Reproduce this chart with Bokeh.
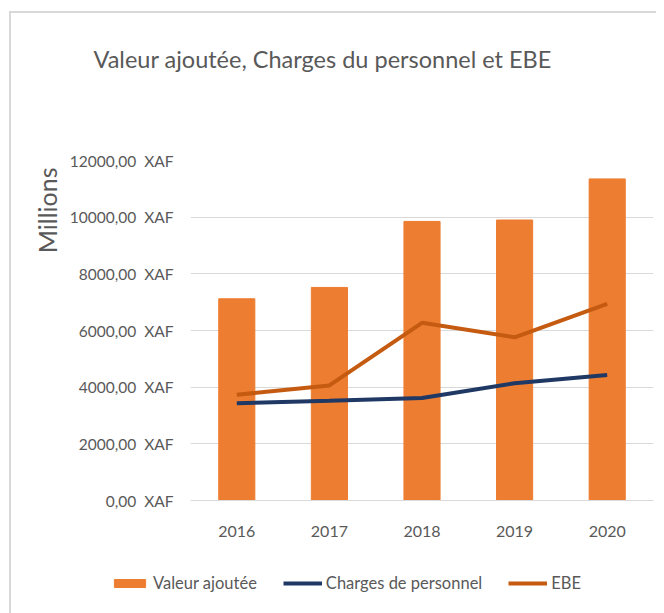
from bokeh.plotting import figure
from bokeh.layouts import column
from bokeh.models import (FactorRange, Range1d, FixedTicker, Title, Legend, LegendItem)
from bokeh.embed import file_html
from bokeh.resources import INLINE

# ---- data ----
years = ["2016", "2017", "2018", "2019", "2020"]
valeur_ajoutee = [7120, 7520, 9850, 9900, 11350]
charges_personnel = [3430, 3520, 3620, 4140, 4430]
ebe = [3730, 4060, 6270, 5760, 6940]
y_ticks = [0, 2000, 4000, 6000, 8000, 10000, 12000]
y_tick_labels = ["0,00\u00a0 XAF", "2000,00\u00a0 XAF", "4000,00\u00a0 XAF",
                 "6000,00\u00a0 XAF", "8000,00\u00a0 XAF", "10000,00\u00a0 XAF",
                 "12000,00\u00a0 XAF"]
title_text = "Valeur ajoutée, Charges du personnel et EBE"
unit_text = "Millions"
legend_labels = ["Valeur ajoutée", "Charges de personnel", "EBE"]

FONT = "Lato"
GRAY = "#595959"
C_BAR, C_CH, C_EBE = "#ED7D31", "#1F3864", "#C55A11"

p = figure(width=645, height=560, x_range=FactorRange(*years, range_padding=0),
           y_range=Range1d(0, 12000), output_backend="svg", toolbar_location=None,
           min_border_left=179, min_border_right=3, min_border_top=147,
           min_border_bottom=73)
p.outline_line_color = None
p.background_fill_color = "white"
p.border_fill_color = "white"

p.vbar(x=years, top=valeur_ajoutee, width=0.39, color=C_BAR)
p.line(x=years, y=charges_personnel, line_color=C_CH, line_width=4)
p.line(x=years, y=ebe, line_color=C_EBE, line_width=4)

p.xgrid.grid_line_color = None
p.ygrid.grid_line_color = "#d9d9d9"
p.ygrid.grid_line_width = 1

p.yaxis.ticker = FixedTicker(ticks=y_ticks)
p.yaxis.major_label_overrides = {t: l for t, l in zip(y_ticks, y_tick_labels)}
p.yaxis.axis_line_color = None
p.yaxis.major_tick_line_color = None
p.yaxis.minor_tick_line_color = None
p.yaxis.major_tick_out = 0
p.yaxis.major_tick_in = 0
p.yaxis.major_label_standoff = 17
p.yaxis.major_label_text_font = FONT
p.yaxis.major_label_text_font_size = "15.5px"
p.yaxis.major_label_text_color = GRAY

p.xaxis.axis_line_color = "#d9d9d9"
p.xaxis.major_tick_line_color = None
p.xaxis.minor_tick_line_color = None
p.xaxis.major_tick_out = 0
p.xaxis.major_tick_in = 0
p.xaxis.major_label_standoff = 25
p.xaxis.major_label_text_font = FONT
p.xaxis.major_label_text_font_size = "16px"
p.xaxis.major_label_text_color = GRAY

# spacer right above the frame, then the real title stacked above it
spacer = Title(text=" ", text_font_size="1px", standoff=80)
p.add_layout(spacer, "above")
main_title = Title(text=title_text, align="left", offset=-97, text_font=FONT,
                   text_font_size="23.5px", text_font_style="normal", text_color=GRAY)
p.add_layout(main_title, "above")

unit = Title(text=unit_text, align="right", offset=7, standoff=9, text_font=FONT,
             text_font_size="25px", text_font_style="normal", text_color=GRAY)
p.add_layout(unit, "left")

# legend strip below the chart (sample renderers hidden, legend still shows them)
lg = figure(width=645, height=40, x_range=FactorRange(*years), y_range=Range1d(0, 12000),
            output_backend="svg", toolbar_location=None, min_border=0,
            x_axis_type=None, y_axis_type=None)
lg.frame_align = False
lg.outline_line_color = None
lg.xgrid.grid_line_color = None
lg.ygrid.grid_line_color = None
r_bar = lg.vbar(x=years, top=valeur_ajoutee, width=0.39, color=C_BAR, visible=False)
r_ch = lg.line(x=years, y=charges_personnel, line_color=C_CH, line_width=4, visible=False)
r_ebe = lg.line(x=years, y=ebe, line_color=C_EBE, line_width=4, visible=False)
legend = Legend(items=[LegendItem(label=legend_labels[0], renderers=[r_bar]),
                       LegendItem(label=legend_labels[1], renderers=[r_ch]),
                       LegendItem(label=legend_labels[2], renderers=[r_ebe])],
                orientation="horizontal", location=(99, 20),
                glyph_width=39, glyph_height=10, label_standoff=4, spacing=26,
                padding=0, margin=0, border_line_color=None,
                background_fill_alpha=0, inactive_fill_alpha=0,
                label_text_font=FONT,
                label_text_font_size="16.5px", label_text_color=GRAY)
lg.add_layout(legend, "center")

layout = column(p, lg, spacing=0,
                styles={"border-left": "2px solid #d9d9d9",
                        "border-top": "2px solid #d9d9d9",
                        "margin-left": "9px", "margin-top": "11px"})

open("out.html", "w").write(file_html(layout, INLINE))
